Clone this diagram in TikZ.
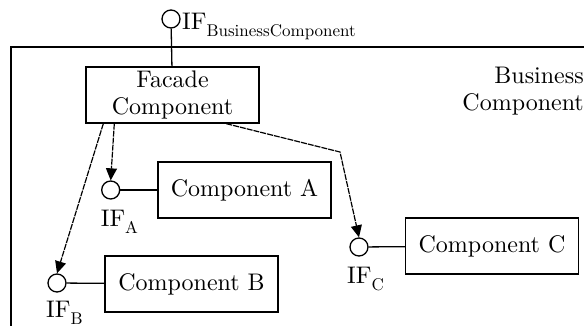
\documentclass[tikz,border=0pt]{standalone}
\usepackage{fontspec}
\setmainfont{lmroman10-regular.otf}
\usetikzlibrary{arrows.meta}

% Interface name with a lowered subscript
\newcommand{\ifname}[1]{IF\raisebox{-7pt}{\fontsize{17}{17}\selectfont #1}}

\tikzset{
  every node/.style={font=\fontsize{24}{27}\selectfont},
  comp/.style={draw, line width=1.4pt, minimum width=173pt, minimum height=56pt, inner sep=0pt, align=center},
  iface/.style={circle, draw, line width=1.3pt, minimum size=18pt, inner sep=0pt},
  iflabel/.style={anchor=base west, inner sep=0pt},
  uses/.style={line width=1.2pt, dash pattern=on 6pt off 1pt, -{Triangle[length=12pt,width=11pt]}}
}

\begin{document}
\begin{tikzpicture}[x=1pt, y=-1pt]

% Fix the picture size
\useasboundingbox (0,0) rectangle (584,326);

% Outer frame of the business component
\draw[line width=1.4pt] (11,340) -- (11,47) -- (600,47);
\node[anchor=north east, align=right, inner sep=0pt] (bizlabel) at (584,67) {Business\\Component};

% Provided interface
\node[iface] (ifbc) at (171,19) {};
\node[iflabel] (ifbclabel) at ([xshift=11pt,yshift=-11pt]ifbc.center) {\ifname{BusinessComponent}};

% Facade
\node[comp] (facade) at (172.5,95) {Facade\\Component};
\draw[line width=1.3pt] (ifbc) -- (facade);

% Inner components and their interfaces
\node[comp] (compa) at (244.5,190) {Component A};
\node[comp] (compb) at (191.5,284) {Component B};
\node[comp] (compc) at (492,246) {Component C};

\node[iface] (ifa) at (110.7,190) {};
\node[iface] (ifb) at (57,283) {};
\node[iface] (ifc) at (359,247) {};

\node[iflabel] (ifalabel) at ([xshift=-10pt,yshift=-36pt]ifa.center) {\ifname{A}};
\node[iflabel] (ifblabel) at ([xshift=-11pt,yshift=-34pt]ifb.center) {\ifname{B}};
\node[iflabel] (ifclabel) at ([xshift=-12pt,yshift=-36pt]ifc.center) {\ifname{C}};

\draw[line width=1.3pt] (ifa) -- (compa);
\draw[line width=1.3pt] (ifb) -- (compb);
\draw[line width=1.3pt] (ifc) -- (compc);

% Dependencies of the facade
\coordinate (bendc) at (340,152);
\draw[uses] ([xshift=29pt]facade.south west) -- (ifa.north);
\draw[uses] ([xshift=18pt]facade.south west) -- (ifb.north);
\draw[uses] ([xshift=141pt]facade.south west) -- (bendc) -- (ifc.north);

\end{tikzpicture}
\end{document}
